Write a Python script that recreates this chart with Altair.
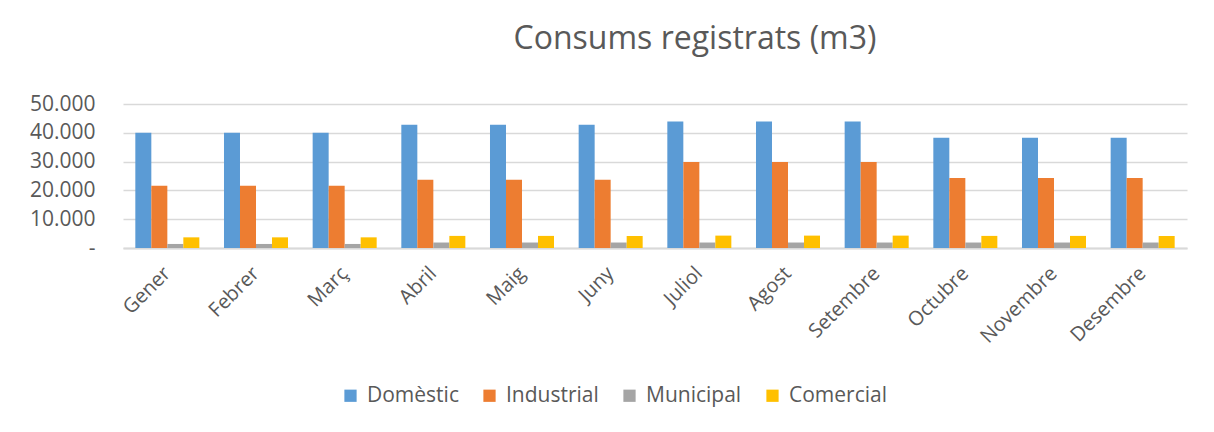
import altair as alt
import pandas as pd

mesos = ["Gener", "Febrer", "Març", "Abril", "Maig", "Juny", "Juliol",
         "Agost", "Setembre", "Octubre", "Novembre", "Desembre"]
series = ["Domèstic", "Industrial", "Municipal", "Comercial"]
domestic = [40000, 40000, 40000, 42800, 42800, 42800, 43900, 43900, 43900, 38300, 38300, 38300]
industrial = [21600, 21600, 21600, 23700, 23700, 23700, 29900, 29900, 29900, 24300, 24300, 24300]
municipal = [1400, 1400, 1400, 1900, 1900, 1900, 1900, 1900, 1900, 1900, 1900, 1900]
comercial = [3700, 3700, 3700, 4200, 4200, 4200, 4300, 4300, 4300, 4200, 4200, 4200]
colors = ["#5B9BD5", "#ED7D31", "#A5A5A5", "#FFC000"]

rows = []
for vals, s in zip([domestic, industrial, municipal, comercial], series):
    for m, v in zip(mesos, vals):
        rows.append({"mes": m, "tipus": s, "valor": v})
df = pd.DataFrame(rows)

FONT = "Open Sans"
TXT = "#595959"

chart = alt.Chart(df).mark_bar().encode(
    x=alt.X("mes:N", sort=mesos, title=None,
            scale=alt.Scale(paddingInner=0.278, paddingOuter=0.139),
            axis=alt.Axis(labelAngle=-45, labelAlign="right", labelBaseline="middle",
                          labelPadding=22, ticks=False, domainColor="#D9D9D9",
                          domainWidth=2, labelFontSize=20, labelColor=TXT,
                          labelFont=FONT, grid=False)),
    xOffset=alt.XOffset("tipus:N", sort=series,
                        scale=alt.Scale(paddingInner=0, paddingOuter=0)),
    y=alt.Y("valor:Q", title=None,
            scale=alt.Scale(domain=[0, 50000], nice=False),
            axis=alt.Axis(values=[0, 10000, 20000, 30000, 40000, 50000],
                          labelExpr="datum.value == 0 ? '-' : format(datum.value/1000, 'd') + '.000'",
                          ticks=False, domain=False, gridColor="#D9D9D9", gridWidth=1.5,
                          labelFontSize=21, labelColor=TXT, labelFont=FONT,
                          labelPadding=28)),
    color=alt.Color("tipus:N", sort=series,
                    scale=alt.Scale(domain=series, range=colors),
                    legend=alt.Legend(title=None, orient="none", direction="horizontal",
                                      legendX=217, legendY=281, symbolType="square",
                                      symbolSize=150, symbolStrokeWidth=0,
                                      labelFontSize=21, labelColor=TXT, labelFont=FONT,
                                      columnPadding=20, labelOffset=6)),
).properties(
    width=1064,
    height=144,
    title=alt.TitleParams("Consums registrats (m3)", fontSize=32, font=FONT,
                          color=TXT, fontWeight="normal", anchor="middle",
                          frame="group", baseline="alphabetic", offset=12, dx=40),
    autosize=alt.AutoSizeParams(type="none"),
    padding={"left": 115, "top": 96, "right": 19, "bottom": 176},
).configure_view(stroke=None)

chart.save("out.html", embed_options={"renderer": "svg", "actions": False})
